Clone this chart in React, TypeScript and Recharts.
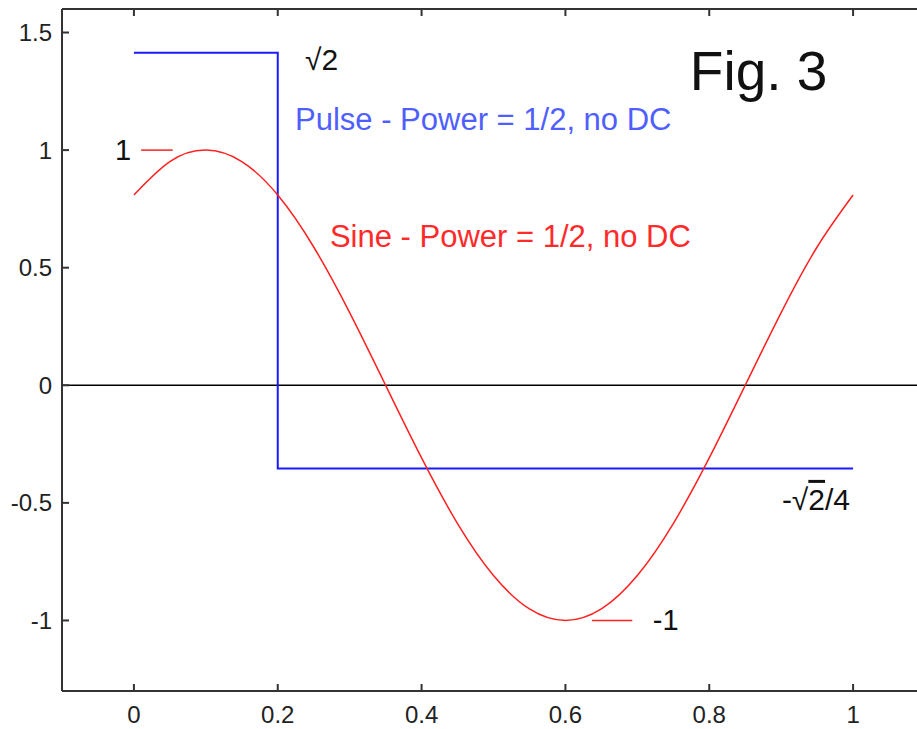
import React from "react";
import { LineChart, Line, XAxis, YAxis, ReferenceLine } from "recharts";

// ---- data ----
const sineX = [0, 0.05, 0.1, 0.15, 0.2, 0.25, 0.3, 0.35, 0.4, 0.45, 0.5, 0.55, 0.6, 0.65, 0.7, 0.75, 0.8, 0.85, 0.9, 0.95, 1];
const sineY = [0.809, 0.951, 1, 0.951, 0.809, 0.588, 0.309, 0, -0.309, -0.588, -0.809, -0.951, -1, -0.951, -0.809, -0.588, -0.309, 0, 0.309, 0.588, 0.809];
const pulseX = [0, 0.2, 1];
const pulseY = [1.414, -0.354, -0.354];
const xTicks = [0, 0.2, 0.4, 0.6, 0.8, 1];
const yTicks = [-1, -0.5, 0, 0.5, 1, 1.5];
const xDomain: [number, number] = [-0.1, 1.1];
const yDomain: [number, number] = [-1.3, 1.6];

const sineData = sineX.map((x, i) => ({ x, y: sineY[i] }));
const pulseData = pulseX.map((x, i) => ({ x, y: pulseY[i] }));

if (typeof document !== "undefined") {
  document.body.style.margin = "0";
}

// ---- layout ----
const PAGE_W = 917;
const PAGE_H = 729;
const OFF = 8;
const W = 920;
const H = 721;
const TOPH = 1;
const M = { top: 0, right: 3, left: 0, bottom: 0 };
const YW = 54;
const XH = 38;
const plotL = M.left + YW;
const plotT = M.top + TOPH;
const plotW = W - plotL - M.right;
const plotH = H - plotT - M.bottom - XH;
const px = (x: number) => plotL + ((x - xDomain[0]) / (xDomain[1] - xDomain[0])) * plotW;
const py = (y: number) => plotT + ((yDomain[1] - y) / (yDomain[1] - yDomain[0])) * plotH;

const FONT = "'Liberation Sans', Arial, sans-serif";
const AX = "#333";

const YTick = (props: any) => {
  const { x, y, payload } = props;
  return (
    <g>
      <line x1={x} x2={x + 7} y1={y} y2={y} stroke={AX} strokeWidth={2} />
      <text x={x - 10} y={y} textAnchor="end" dominantBaseline="central" fontSize={24} fontFamily={FONT} fill="#222">
        {String(payload.value)}
      </text>
    </g>
  );
};

const XTick = (props: any) => {
  const { x, y, payload } = props;
  return (
    <g>
      <line x1={x} x2={x} y1={y} y2={y - 7} stroke={AX} strokeWidth={2} />
      <text x={x} y={y + 32} textAnchor="middle" fontSize={24} fontFamily={FONT} fill="#222">
        {String(payload.value)}
      </text>
    </g>
  );
};

const TopTick = (props: any) => {
  const { x, y } = props;
  return <line x1={x} x2={x} y1={y} y2={y + 7} stroke={AX} strokeWidth={2} />;
};

export default function App() {
  return (
    <div style={{ position: "relative", width: PAGE_W, height: PAGE_H, overflow: "hidden", background: "#fff" }}>
      <div style={{ position: "absolute", left: OFF, top: OFF, width: W, height: H }}>
        <LineChart width={W} height={H} margin={M}>
          <XAxis
            dataKey="x"
            type="number"
            domain={xDomain}
            ticks={xTicks}
            allowDataOverflow
            height={XH}
            tickSize={0}
            tickMargin={0}
            tickLine={false}
            axisLine={{ stroke: AX, strokeWidth: 2 }}
            tick={<XTick />}
            interval={0}
          />
          <XAxis
            xAxisId="top"
            orientation="top"
            dataKey="x"
            type="number"
            domain={xDomain}
            ticks={xTicks}
            allowDataOverflow
            height={TOPH}
            tickSize={0}
            tickMargin={0}
            tickLine={false}
            axisLine={{ stroke: AX, strokeWidth: 2 }}
            tick={<TopTick />}
            interval={0}
          />
          <YAxis
            dataKey="y"
            type="number"
            domain={yDomain}
            ticks={yTicks}
            allowDataOverflow
            width={YW}
            tickSize={0}
            tickMargin={0}
            tickLine={false}
            axisLine={{ stroke: AX, strokeWidth: 2 }}
            tick={<YTick />}
            interval={0}
          />
          <ReferenceLine y={0} stroke="#000" strokeWidth={1.6} />
          <ReferenceLine segment={[{ x: 0.01, y: 1 }, { x: 0.054, y: 1 }]} stroke="#ff2020" strokeWidth={1.5} />
          <ReferenceLine segment={[{ x: 0.637, y: -1 }, { x: 0.693, y: -1 }]} stroke="#ff2020" strokeWidth={1.5} />
          <Line
            data={pulseData}
            dataKey="y"
            type="stepAfter"
            stroke="#1a1aff"
            strokeWidth={2}
            dot={false}
            isAnimationActive={false}
          />
          <Line
            data={sineData}
            dataKey="y"
            type="natural"
            stroke="#ff2020"
            strokeWidth={1.5}
            dot={false}
            isAnimationActive={false}
          />
        </LineChart>
        <svg
          width={W}
          height={H}
          style={{ position: "absolute", left: 0, top: 0, pointerEvents: "none" }}
          fontFamily={FONT}
        >
          <text x={px(0.238)} y={py(1.34)} fontSize={30} fill="#111">√2</text>
          <text x={px(0.224)} y={py(1.086)} fontSize={31} fill="#4f5fff">Pulse - Power = 1/2, no DC</text>
          <text x={px(0.773)} y={py(1.255)} fontSize={55} fill="#111">Fig. 3</text>
          <text x={px(-0.004)} y={py(1)} fontSize={29} fill="#111" textAnchor="end" dominantBaseline="central">1</text>
          <text x={px(0.2725)} y={py(0.588)} fontSize={31} fill="#ff2a2a">Sine - Power = 1/2, no DC</text>
          <text x={px(0.901)} y={py(-0.53)} fontSize={30} fill="#111">
            -√<tspan style={{ textDecoration: "overline" }}>2</tspan>/4
          </text>
          <text x={px(0.7216)} y={py(-1)} fontSize={29} fill="#111" dominantBaseline="central">-1</text>
        </svg>
      </div>
    </div>
  );
}
